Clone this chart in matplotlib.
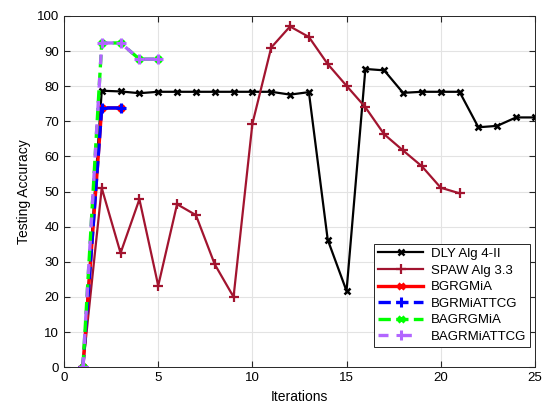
import matplotlib.pyplot as plt

# iteration axes
iters_dly = list(range(1, 26))
iters_spaw = list(range(1, 22))
iters_bg = [1, 2, 3]
iters_ba = [1, 2, 3, 4, 5]

# testing accuracy (%)
acc_dly = [0, 78.7, 78.5, 78.0, 78.4, 78.4, 78.4, 78.4, 78.4, 78.4, 78.4, 77.6, 78.3,
           36.3, 21.7, 84.9, 84.5, 78.1, 78.4, 78.4, 78.4, 68.3, 68.7, 71.1, 71.1]
acc_spaw = [0, 51.0, 32.5, 47.8, 23.2, 46.4, 43.3, 29.3, 20.0, 69.3, 91.0, 97.0, 94.0,
            86.3, 80.1, 74.0, 66.3, 61.7, 57.2, 51.1, 49.5]
acc_bgrgmia = [0, 73.8, 73.8]
acc_bgrmiattcg = [0, 73.8, 73.8]
acc_bagrgmia = [0, 92.3, 92.3, 87.7, 87.7]
acc_bagrmiattcg = [0, 92.3, 92.3, 87.7, 87.7]

plt.rcParams['font.family'] = ['Liberation Sans', 'DejaVu Sans']

fig = plt.figure(figsize=(5.43, 4.08), dpi=100)
ax = fig.add_axes([0.118, 0.100, 0.867, 0.861])

ax.plot(iters_dly, acc_dly, color='black', lw=1.6, marker='x', ms=5, mew=1.8,
        label='DLY Alg 4-II')
ax.plot(iters_spaw, acc_spaw, color='#A2142F', lw=1.6, marker='+', ms=7, mew=1.6,
        label='SPAW Alg 3.3')
ax.plot(iters_bg, acc_bgrgmia, color='red', lw=2.4, marker='x', ms=5, mew=2.2,
        label='BGRGMiA')
ax.plot(iters_bg, acc_bgrmiattcg, color='blue', lw=2.4, ls='--', marker='+', ms=7, mew=2.2,
        label='BGRMiATTCG')
ax.plot(iters_ba, acc_bagrgmia, color='#00FF00', lw=2.4, ls='--', marker='x', ms=5, mew=2.2,
        label='BAGRGMiA')
ax.plot(iters_ba, acc_bagrmiattcg, color='#B266FF', lw=2.4, ls=(0, (3, 4)), marker='+', ms=7, mew=2.2,
        label='BAGRMiATTCG')

ax.set_xlim(0, 25)
ax.set_ylim(0, 100)
ax.set_xticks(range(0, 26, 5))
ax.set_yticks(range(0, 101, 10))
ax.grid(True, color='#E3E3E3', lw=0.8)
ax.set_axisbelow(True)
ax.tick_params(direction='in', top=True, right=True, labelsize=9.5, length=4, color='#262626')
for s in ax.spines.values():
    s.set_color('#262626')
    s.set_linewidth(0.7)
ax.set_xlabel('Iterations', fontsize=10)
ax.set_ylabel('Testing Accuracy', fontsize=10)

leg = ax.legend(loc='lower right', bbox_to_anchor=(0.996, 0.05), fontsize=9.5,
                fancybox=False, edgecolor='#262626', framealpha=1,
                handlelength=3.4, handletextpad=0.6, labelspacing=0.33, borderpad=0.3,
                borderaxespad=0.2)
leg.get_frame().set_linewidth(0.7)

fig.savefig('out.png', dpi=100)
